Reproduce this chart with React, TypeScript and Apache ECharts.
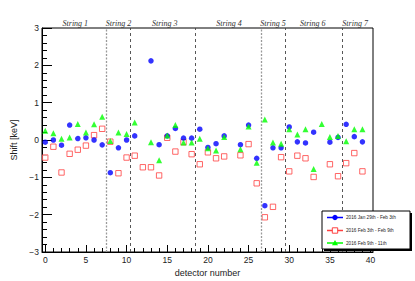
import React, { useEffect, useRef } from "react";
import * as echarts from "echarts";

const detectorCount = 40;
const blueShift = [-0.06, 0.0, -0.14, 0.40, 0.04, 0.06, 0.0, -0.13, -0.875, -0.21,
  0.0, 0.11, null, 2.12, -0.125, 0.11, 0.31, 0.05, 0.05, 0.29,
  -0.2, -0.1, 0.11, null, -0.125, 0.40, -0.49, -1.76, -0.21, -0.21,
  0.35, -0.05, -0.08, 0.21, null, -0.06, 0.07, 0.42, 0.09, -0.05];
const redShift = [-0.47, -0.18, -0.87, -0.37, -0.26, -0.15, 0.13, 0.30, -0.045, -0.89,
  -0.47, -0.42, -0.73, -0.73, -0.95, 0.06, -0.31, -0.06, -0.38, -0.65,
  -0.33, -0.49, -0.44, null, -0.41, -0.11, -1.16, -2.07, -1.79, -0.46,
  -0.84, -0.42, -0.49, -0.99, null, -0.65, -0.97, -0.62, -0.35, -0.84];
const greenShift = [0.25, 0.18, 0.035, 0.07, 0.43, 0.2, 0.42, 0.62, -0.03, 0.2,
  0.16, 0.47, null, -0.06, -0.54, 0.12, 0.40, -0.07, -0.07, 0.035,
  -0.22, -0.28, 0.08, null, -0.25, 0.36, -0.61, 0.55, -0.07, -0.1,
  0.29, 0.15, 0.29, -0.78, 0.43, 0.08, 0.11, -0.035, 0.29, 0.29];

const seriesNames = ["2016 Jan 29th - Feb 3th", "2016 Feb 3th - Feb 9th", "2016 Feb 9th - 11th"];
const stringNames = ["String 1", "String 2", "String 3", "String 4", "String 5", "String 6", "String 7"];
const stringCenters = [3.7, 9, 14.7, 22.6, 28, 32.9, 38.1];
const boundaries = [7.5, 10.5, 18.5, 26.5, 29.5, 36.5];
const boundaryDotted = [true, false, false, true, false, false];
const xMajorTicks = [0, 5, 10, 15, 20, 25, 30, 35, 40];
const xMinorTicks = Array.from({ length: 41 }, (_, i) => i);

const BLUE = "#0000ff";
const RED = "#ff4040";
const GREEN = "#00ff00";

function toPoints(vals: (number | null)[]) {
  const out: number[][] = [];
  for (let i = 0; i < detectorCount; i++) {
    const v = vals[i];
    if (v !== null && v !== undefined) out.push([i, v]);
  }
  return out;
}

const fmt = (v: number) => String(v).replace("-", "\u2212");

export default function App() {
  const ref = useRef<HTMLDivElement>(null);
  useEffect(() => {
    if (!ref.current) return;
    const chart = echarts.init(ref.current, undefined, { renderer: "svg" });
    const sans = "Liberation Sans, Arial, sans-serif";
    const lx = 327, lx2 = 343, lxText = 346;
    const rows = [217.5, 230.5, 243];
    const legendGraphics: any[] = [
      { type: "rect", shape: { x: 324, y: 213, width: 88, height: 38 }, style: { fill: "#000" }, z: 100 },
      { type: "rect", shape: { x: 322, y: 211, width: 88, height: 38 }, style: { fill: "#fff", stroke: "#000", lineWidth: 1 }, z: 101 },
    ];
    const colors = [BLUE, RED, GREEN];
    rows.forEach((y, i) => {
      legendGraphics.push({ type: "line", shape: { x1: lx, y1: y, x2: lx2, y2: y }, style: { stroke: colors[i], lineWidth: 1.5 }, z: 102 });
      legendGraphics.push({
        type: "text", x: lxText, y, z: 102,
        style: { text: seriesNames[i], fontSize: 4.7, fontFamily: sans, fill: "#222", verticalAlign: "middle", align: "left" },
      });
    });
    const cx = (lx + lx2) / 2;
    legendGraphics.push({ type: "circle", shape: { cx, cy: rows[0], r: 2.7 }, style: { fill: BLUE }, z: 103 });
    legendGraphics.push({ type: "rect", shape: { x: cx - 2.7, y: rows[1] - 2.7, width: 5.4, height: 5.4 }, style: { fill: "#fff", stroke: RED, lineWidth: 1 }, z: 103 });
    legendGraphics.push({ type: "polygon", shape: { points: [[cx, rows[2] - 3], [cx + 3, rows[2] + 2.2], [cx - 3, rows[2] + 2.2]] }, style: { fill: GREEN }, z: 103 });

    const option: any = {
      animation: false,
      grid: { left: 42, right: 42, top: 28, bottom: 29, show: true, borderColor: "#000", borderWidth: 1, backgroundColor: "transparent", outerBoundsMode: "none", containLabel: false },
      xAxis: [
        {
          type: "value", min: -0.4, max: 40.3,
          name: "detector number", nameLocation: "middle", nameGap: 12,
          nameTextStyle: { fontSize: 9, fontFamily: sans, color: "#222" },
          axisLine: { show: true, onZero: false, lineStyle: { color: "#000", width: 1 } },
          axisTick: { show: true, inside: true, length: 7, customValues: xMajorTicks, lineStyle: { color: "#000", width: 1 } },
          axisLabel: { show: true, customValues: xMajorTicks, fontSize: 8.5, fontFamily: sans, color: "#222", margin: 3, formatter: fmt },
          splitLine: { show: false },
        },
        {
          type: "value", min: -0.4, max: 40.3, position: "bottom",
          axisLine: { show: false, onZero: false },
          axisTick: { show: true, inside: true, length: 4, customValues: xMinorTicks, lineStyle: { color: "#000", width: 1 } },
          axisLabel: { show: false },
          splitLine: { show: false },
        },
        {
          type: "value", min: -0.4, max: 40.3, position: "top",
          axisLine: { show: false, onZero: false },
          axisTick: { show: false },
          axisLabel: {
            show: true, customValues: stringCenters, margin: 1,
            formatter: (v: number) => stringNames[stringCenters.indexOf(v)] ?? "",
            fontSize: 8, fontFamily: "Liberation Serif, Times New Roman, serif", fontStyle: "italic", color: "#333",
          },
          splitLine: { show: false },
        },
      ],
      yAxis: {
        type: "value", min: -3, max: 3, interval: 1,
        name: "Shift [keV]", nameLocation: "middle", nameGap: 20, nameRotate: 90,
        nameTextStyle: { fontSize: 9, fontFamily: sans, color: "#222" },
        axisLine: { show: true, onZero: false, lineStyle: { color: "#000", width: 1 } },
        axisTick: { show: true, inside: true, length: 10, lineStyle: { color: "#000", width: 1 } },
        minorTick: { show: true, splitNumber: 5, length: 5, lineStyle: { color: "#000", width: 1 } },
        axisLabel: { fontSize: 8.5, fontFamily: sans, color: "#222", margin: 3, formatter: fmt },
        splitLine: { show: false },
      },
      series: [
        {
          name: seriesNames[0], type: "scatter", data: toPoints(blueShift),
          symbol: "circle", symbolSize: 5.5, itemStyle: { color: BLUE }, z: 3,
          markLine: {
            silent: true, symbol: "none", label: { show: false },
            data: boundaries.map((b, i) => ({
              xAxis: b,
              lineStyle: boundaryDotted[i]
                ? { color: "#9a9a9a", type: [2, 1.5], width: 1.3 }
                : { color: "#444", type: [3, 3], width: 0.9 },
            })),
          },
        },
        {
          name: seriesNames[1], type: "scatter", data: toPoints(redShift),
          symbol: "rect", symbolSize: 5.4, itemStyle: { color: "#fff", borderColor: RED, borderWidth: 1 }, z: 2,
        },
        {
          name: seriesNames[2], type: "scatter", data: toPoints(greenShift),
          symbol: "triangle", symbolSize: 6, itemStyle: { color: GREEN }, z: 4,
        },
      ],
      graphic: legendGraphics,
    };
    chart.setOption(option);
    return () => chart.dispose();
  }, []);
  return <div ref={ref} style={{ position: "fixed", left: 0, top: 0, width: 415, height: 281, background: "#fff" }} />;
}
